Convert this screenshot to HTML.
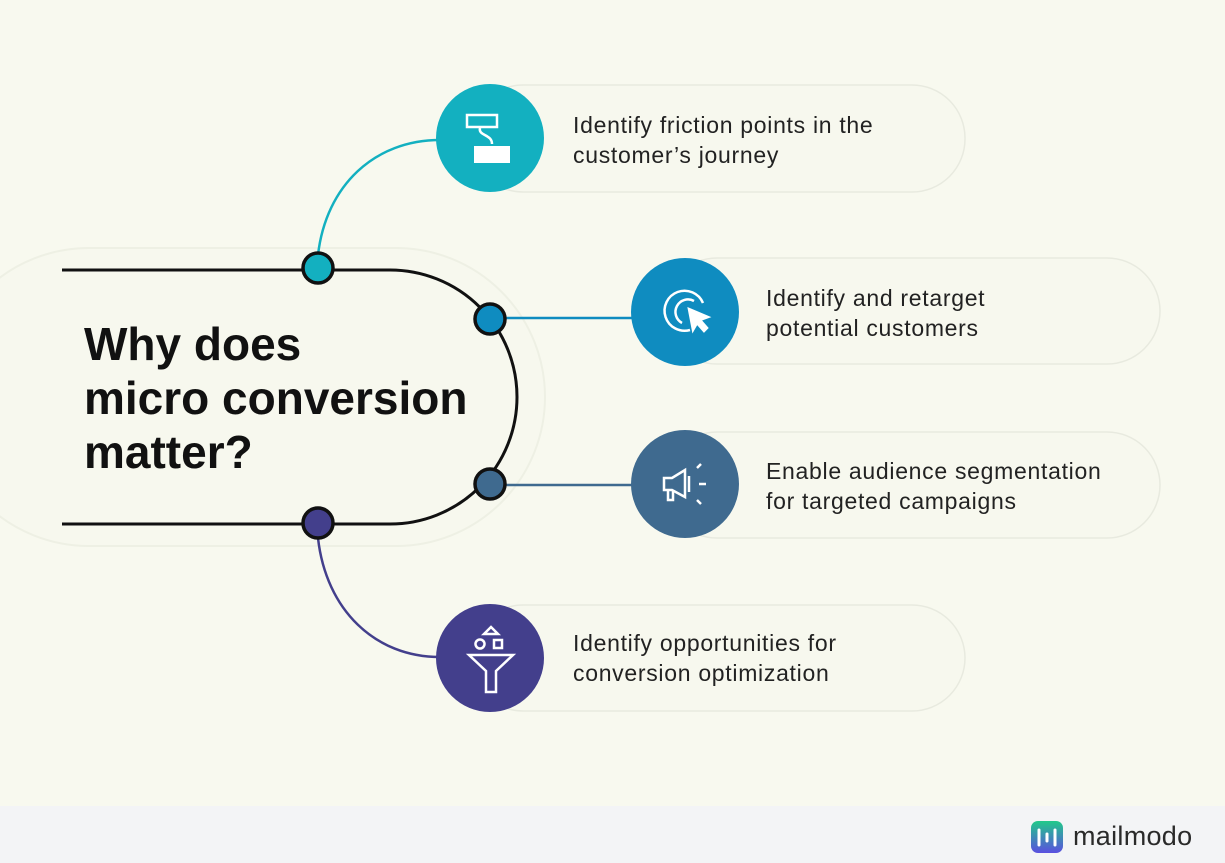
<!DOCTYPE html>
<html><head><meta charset="utf-8"><style>
html,body{margin:0;padding:0;}
body{width:1225px;height:863px;background:#f8f9ef;position:relative;overflow:hidden;font-family:"Liberation Sans",sans-serif;}
.footer{position:absolute;left:0;top:806px;width:1225px;height:57px;background:#f3f4f6;}
.t{position:absolute;font-size:23px;line-height:30px;color:#222;letter-spacing:0.7px;white-space:nowrap;}
.title{position:absolute;left:84px;top:317px;font-size:46px;line-height:54px;font-weight:bold;color:#111;white-space:nowrap;}
</style></head><body>
<svg width="1225" height="863" style="position:absolute;left:0;top:0">
 <rect x="-60" y="248" width="605" height="298" rx="149" fill="#f7f8ee" stroke="#eef0e4" stroke-width="2"/>
 <rect x="470" y="85" width="495" height="107" rx="53" fill="#f7f8ee" stroke="#e8eadf" stroke-width="1.5"/>
 <rect x="664" y="258" width="496" height="106" rx="53" fill="#f7f8ee" stroke="#e8eadf" stroke-width="1.5"/>
 <rect x="664" y="432" width="496" height="106" rx="53" fill="#f7f8ee" stroke="#e8eadf" stroke-width="1.5"/>
 <rect x="470" y="605" width="495" height="106" rx="53" fill="#f7f8ee" stroke="#e8eadf" stroke-width="1.5"/>
 <path d="M318,255 C326,185 375,140 440,140" fill="none" stroke="#13b0c0" stroke-width="2.5"/>
 <path d="M318,538 C326,610 375,657 440,657" fill="none" stroke="#433f8c" stroke-width="2.5"/>
 <line x1="505" y1="318" x2="632" y2="318" stroke="#0f8cc0" stroke-width="2.5"/>
 <line x1="505" y1="485" x2="632" y2="485" stroke="#3f6a8f" stroke-width="2.5"/>
 <path d="M62,270 H390 A127,127 0 0 1 390,524 H62" fill="none" stroke="#111" stroke-width="3"/>
 <circle cx="318" cy="268" r="15" fill="#13b0c0" stroke="#111" stroke-width="3.5"/>
 <circle cx="490" cy="319" r="15" fill="#0f8cc0" stroke="#111" stroke-width="3.5"/>
 <circle cx="490" cy="484" r="15" fill="#3f6a8f" stroke="#111" stroke-width="3.5"/>
 <circle cx="318" cy="523" r="15" fill="#433f8c" stroke="#111" stroke-width="3.5"/>
 <circle cx="490" cy="138" r="54" fill="#13b0c0"/>
 <circle cx="685" cy="312" r="54" fill="#0f8cc0"/>
 <circle cx="685" cy="484" r="54" fill="#3f6a8f"/>
 <circle cx="490" cy="658" r="54" fill="#433f8c"/>
 <g stroke="#fff" stroke-width="2.5" fill="none">
  <rect x="467" y="115" width="30" height="12"/>
  <path d="M480,128 C478,136 492,134 492,144"/>
 </g>
 <rect x="474" y="146" width="36" height="17" fill="#fff"/>
 <g stroke="#fff" stroke-width="2.5" fill="none">
  <path d="M703,303 A20,20 0 1 0 690,330"/>
  <path d="M694,301 A11,11 0 1 0 682,323"/>
  <path d="M689,309 L708,317 L700,320 L707,328 L704,331 L697,323 L693,330 Z" fill="#fff"/>
 </g>
 <g stroke="#fff" stroke-width="2.5" fill="none">
  <path d="M664,478 H672 L685,470 V497 L672,490 H664 Z"/>
  <path d="M668,490 V500 H673 V490"/>
  <line x1="689" y1="476" x2="689" y2="492"/>
  <line x1="697" y1="468" x2="701" y2="464"/>
  <line x1="699" y1="484" x2="706" y2="484"/>
  <line x1="697" y1="500" x2="701" y2="504"/>
 </g>
 <g stroke="#fff" stroke-width="2.5" fill="none">
  <path d="M484,634 L491,627 L498,634 Z"/>
  <circle cx="480" cy="644" r="4.5"/>
  <rect x="494" y="640" width="8" height="8"/>
  <path d="M469,655 H513 L496,671 V692 H486 V671 Z"/>
 </g>
</svg>
<div class="footer"></div>
<svg width="1225" height="863" style="position:absolute;left:0;top:0">
 <defs><linearGradient id="lg2" x1="0" y1="0" x2="0" y2="1"><stop offset="0" stop-color="#22c98a"/><stop offset="1" stop-color="#5a4fe0"/></linearGradient></defs>
 <rect x="1031" y="821" width="32" height="32" rx="7" fill="url(#lg2)"/>
 <g stroke="#fff" stroke-width="3" stroke-linecap="round"><line x1="1039" y1="830" x2="1039" y2="845"/><line x1="1047" y1="834" x2="1047" y2="841"/><line x1="1055" y1="830" x2="1055" y2="845"/></g>
 <text x="1073" y="845" font-family="Liberation Sans,sans-serif" font-size="27" letter-spacing="0.3" fill="#2a2a2a">mailmodo</text>
</svg>
<div class="title">Why does<br>micro conversion<br>matter?</div>
<div class="t" style="left:573px;top:110px">Identify friction points in the<br>customer’s journey</div>
<div class="t" style="left:766px;top:283px">Identify and retarget<br>potential customers</div>
<div class="t" style="left:766px;top:456px">Enable audience segmentation<br>for targeted campaigns</div>
<div class="t" style="left:573px;top:628px">Identify opportunities for<br>conversion optimization</div>
</body></html>
